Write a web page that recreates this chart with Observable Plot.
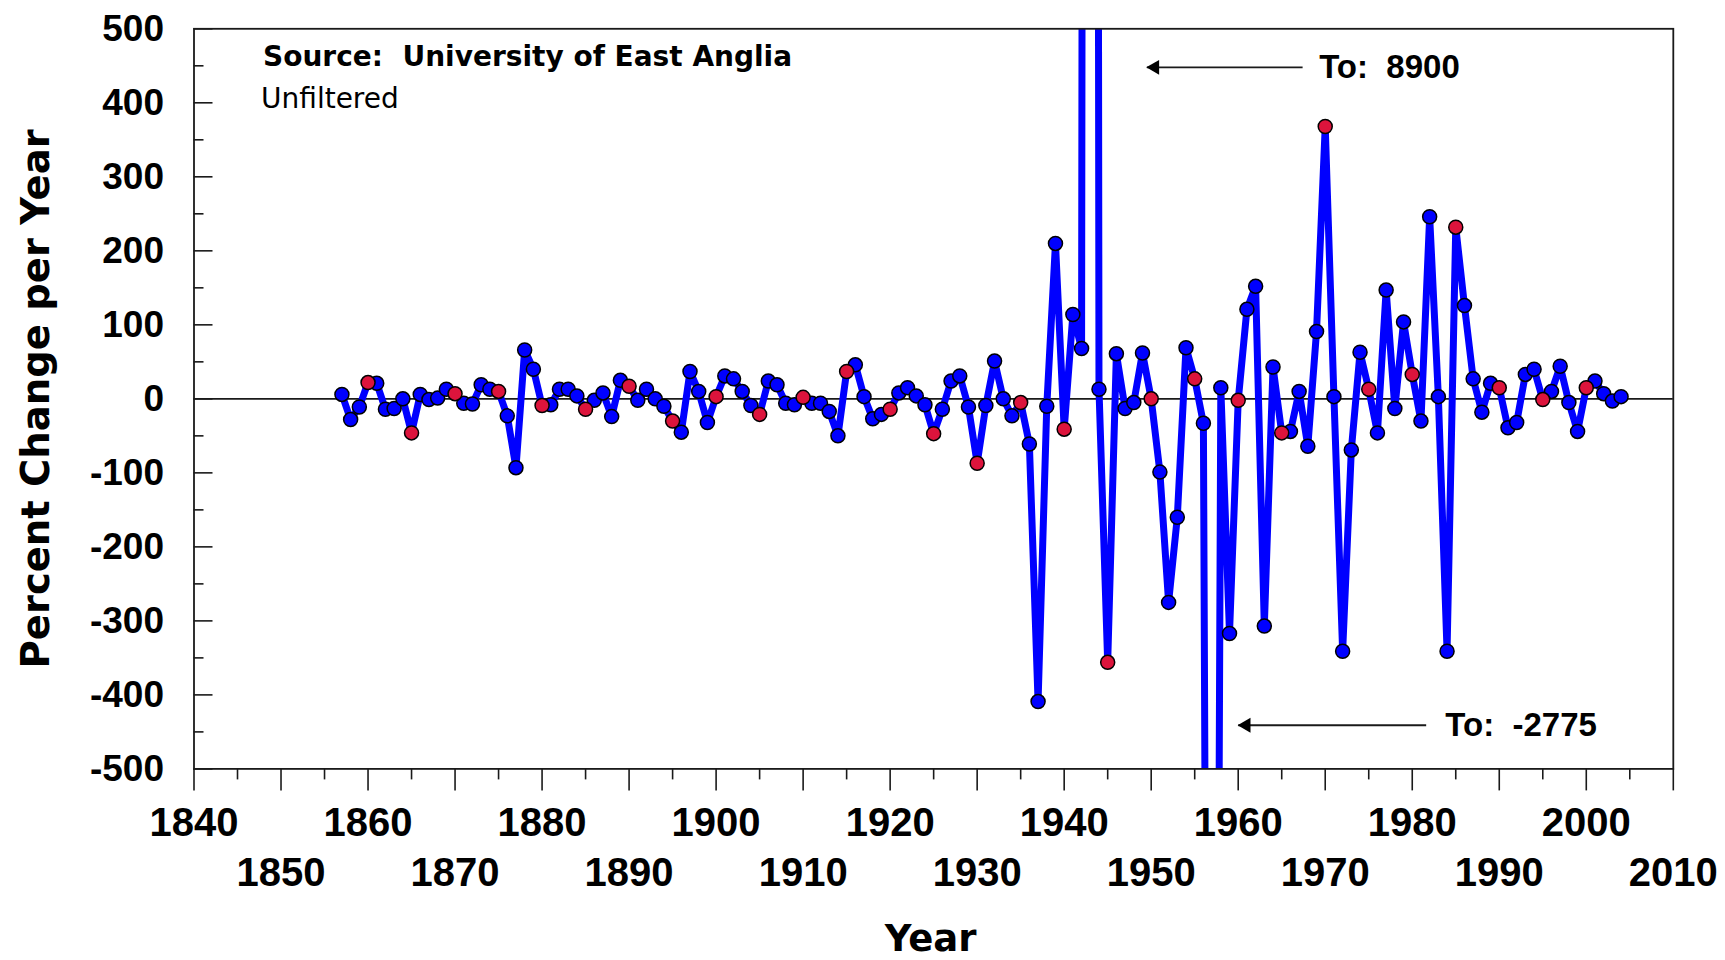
<!DOCTYPE html>
<html>
<head>
<meta charset="utf-8">
<script src="https://cdn.jsdelivr.net/npm/d3@7"></script>
<script src="https://cdn.jsdelivr.net/npm/@observablehq/plot@0.6"></script>
<style>
  html, body { margin: 0; padding: 0; background: #ffffff; }
</style>
</head>
<body>
<div id="chart"></div>
<script>
// ---------------- data ----------------
const firstYear = 1857;
const pctChange1857_1899 = [
  6, -28, -11, 22, 21, -14, -13, 0, -46, 6,
  -1, 1, 13, 7, -6, -7, 19, 13, 10, -23,
  -93, 66, 40, -9, -8, 13, 13, 4, -14, -2,
  8, -24, 25, 17, -2, 13, 0, -10, -30, -45,
  37, 10, -32
];
const pctChange1900_1949 = [
  3, 31, 27, 10, -9, -21, 24, 19, -6, -8,
  2, -6, -6, -17, -50, 37, 46, 3, -27, -21,
  -14, 8, 15, 4, -8, -47, -14, 24, 31, -11,
  -87, -9, 51, 0, -23, -5, -61, -409, -10, 210,
  -41, 114, 68, 8900, 13, -356, 61, -13, -5, 62
];
const pctChange1950_2004 = [
  0, -99, -275, -160, 69, 27, -33, -2775, 15, -317,
  -2, 121, 152, -307, 43, -46, -44, 10, -64, 91,
  368, 3, -341, -69, 63, 13, -46, 147, -13, 104,
  33, -30, 246, 3, -341, 232, 126, 27, -18, 21,
  15, -39, -32, 33, 40, -1, 10, 44, -5, -44,
  15, 24, 7, -3, 3
];
const highlightYears = [1860, 1865, 1870, 1875, 1880, 1885, 1890, 1895, 1900, 1905,
  1910, 1915, 1920, 1925, 1930, 1935, 1940, 1945, 1950, 1955, 1960, 1965, 1970,
  1975, 1980, 1985, 1990, 1995, 2000];
const yTickValues = [-500, -400, -300, -200, -100, 0, 100, 200, 300, 400, 500];
const yMinorTicks = [-450, -350, -250, -150, -50, 50, 150, 250, 350, 450];
const xLabelsRow1 = [1840, 1860, 1880, 1900, 1920, 1940, 1960, 1980, 2000];
const xLabelsRow2 = [1850, 1870, 1890, 1910, 1930, 1950, 1970, 1990, 2010];
const xMinorTicks = [1845, 1855, 1865, 1875, 1885, 1895, 1905, 1915, 1925, 1935,
  1945, 1955, 1965, 1975, 1985, 1995, 2005];
const offscaleNotes = [
  {label: "To:\u00a0 8900", value: 448, head: 1949.5, tail: 1967.4, textAt: 1969.3},
  {label: "To:\u00a0 -2775", value: -441, head: 1960.0, tail: 1981.6, textAt: 1983.8}
];

// ---------------- build ----------------
const pctChange = [...pctChange1857_1899, ...pctChange1900_1949, ...pctChange1950_2004];
const data = pctChange.map((v, i) => ({
  year: firstYear + i,
  value: v,
  red: highlightYears.includes(firstYear + i)
}));
const xMajorTicks = [...xLabelsRow1, ...xLabelsRow2];

const W = 1725, H = 960;
const mL = 193.5, mR = 52.2, mT = 28.3, mB = 960 - 768.4;
const frameW = W - mL - mR, frameH = H - mT - mB;
const ink = "#1a1a1a";
const numFont = "'Liberation Sans', Arial, sans-serif";
const titleFont = "'DejaVu Sans', Verdana, sans-serif";

const chart = Plot.plot({
  width: W,
  height: H,
  marginLeft: mL,
  marginRight: mR,
  marginTop: mT,
  marginBottom: mB,
  x: {domain: [1840, 2010], axis: null},
  y: {domain: [-500, 500], axis: null},
  style: {background: "#ffffff", fontFamily: numFont, overflow: "visible"},
  marks: [
    Plot.ruleY([0], {stroke: ink, strokeWidth: 1.6}),
    Plot.tickY(yTickValues, {y: d => d, insetRight: frameW - 19, stroke: ink, strokeWidth: 1.6}),
    Plot.tickY(yMinorTicks, {y: d => d, insetRight: frameW - 10, stroke: ink, strokeWidth: 1.6}),
    Plot.tickX(xMajorTicks, {x: d => d, insetTop: frameH, insetBottom: -22, stroke: ink, strokeWidth: 1.6}),
    Plot.tickX(xMinorTicks, {x: d => d, insetTop: frameH, insetBottom: -11, stroke: ink, strokeWidth: 1.6}),
    Plot.line(data, {x: "year", y: "value", stroke: "#0000ff", strokeWidth: 7, strokeLinejoin: "miter", strokeMiterlimit: 2, clip: true}),
    Plot.dot(data.filter(d => !d.red), {x: "year", y: "value", r: 7, fill: "#0000ff", stroke: "#000", strokeWidth: 1.5, clip: true}),
    Plot.dot(data.filter(d => d.red), {x: "year", y: "value", r: 7, fill: "#dc143c", stroke: "#000", strokeWidth: 1.5, clip: true}),
    Plot.frame({stroke: ink, strokeWidth: 1.8}),
    // y tick labels
    Plot.text(yTickValues, {y: d => d, text: d => String(d), frameAnchor: "left", dx: -30,
      textAnchor: "end", lineAnchor: "middle", fontSize: 37, letterSpacing: 1.5, fontWeight: "bold", fill: "#000", fontFamily: numFont}),
    // x tick labels, two staggered rows
    Plot.text(xLabelsRow1, {x: d => d, text: d => String(d), frameAnchor: "bottom", dy: 54.5,
      lineAnchor: "middle", fontSize: 40, fontWeight: "bold", fill: "#000", fontFamily: numFont}),
    Plot.text(xLabelsRow2, {x: d => d, text: d => String(d), frameAnchor: "bottom", dy: 104.5,
      lineAnchor: "middle", fontSize: 40, fontWeight: "bold", fill: "#000", fontFamily: numFont}),
    // axis titles
    Plot.text(["Year"], {frameAnchor: "bottom", dx: -3, dy: 170, lineAnchor: "middle",
      fontSize: 37, fontWeight: "bold", fill: "#000", fontFamily: titleFont}),
    Plot.text(["Percent Change per Year"], {frameAnchor: "left", dx: -157, rotate: -90,
      textAnchor: "middle", lineAnchor: "middle",
      fontSize: 38.5, fontWeight: "bold", fill: "#000", fontFamily: titleFont}),
    // source notes
    Plot.text(["Source:\u00a0 University of East Anglia"], {frameAnchor: "top-left", dx: 69, dy: 28,
      textAnchor: "start", lineAnchor: "middle", fontSize: 28, fontWeight: "bold", fill: "#000", fontFamily: titleFont}),
    Plot.text(["Unfiltered"], {frameAnchor: "top-left", dx: 67, dy: 70,
      textAnchor: "start", lineAnchor: "middle", fontSize: 28, letterSpacing: 1, fill: "#000", fontFamily: titleFont}),
    // off-scale annotations
    Plot.link(offscaleNotes, {x1: "head", x2: "tail", y1: "value", y2: "value", stroke: ink, strokeWidth: 1.8}),
    Plot.dot(offscaleNotes, {x: "head", y: "value", symbol: "triangle", r: 5.5, rotate: -90, dx: 8, fill: "#000", stroke: "none"}),
    Plot.text(offscaleNotes, {x: "textAt", y: "value", text: "label", textAnchor: "start", lineAnchor: "middle",
      fontSize: 33, letterSpacing: 0.5, fontWeight: "bold", fill: "#000", fontFamily: numFont})
  ]
});
document.getElementById("chart").appendChild(chart);
</script>
</body>
</html>
